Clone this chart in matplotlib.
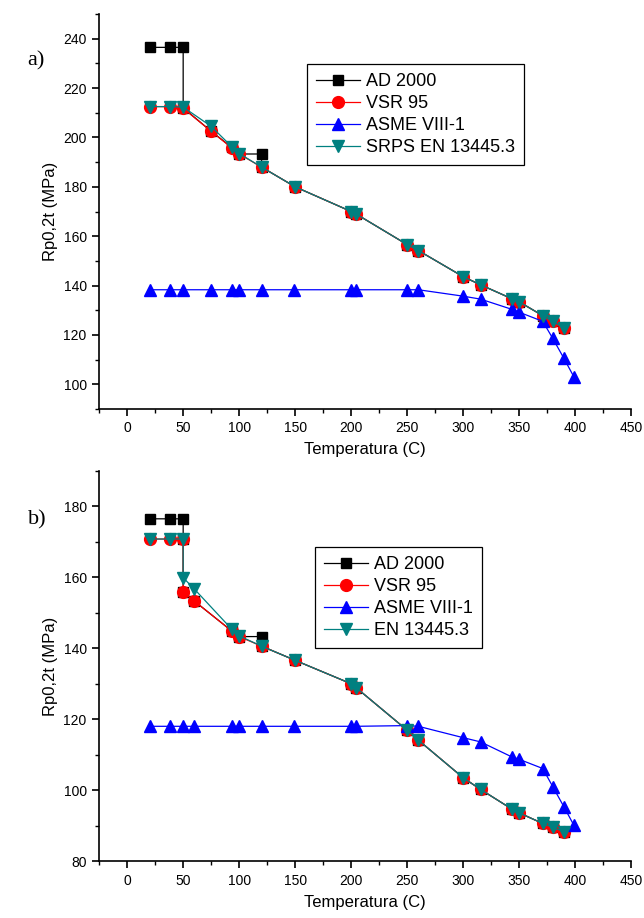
import numpy as np
import matplotlib
matplotlib.use('Agg')
import matplotlib.pyplot as plt
from matplotlib.ticker import MultipleLocator

plt.rcParams['font.family'] = ['Liberation Sans', 'DejaVu Sans']

# ---- panel a) ----
t_ad_a = [20, 37.8, 50, 50, 75, 93.3, 100, 120, 120, 150, 200, 204.4, 250, 260, 300, 315.6, 343.3, 350, 371.1, 380, 390]
ad_a = [236.5, 236.5, 236.5, 212.0, 202.5, 196.0, 193.3, 193.3, 188.0, 180.0, 170.0, 169.0, 156.6, 154.2,
        143.6, 140.3, 134.7, 133.4, 127.8, 125.5, 122.8]

t_vsr_a = [20, 37.8, 50, 75, 93.3, 100, 120, 150, 200, 204.4, 250, 260, 300, 315.6, 343.3, 350, 371.1, 380, 390]
vsr_a = [212.5, 212.5, 211.8, 202.5, 195.8, 193.3, 188.0, 180.0, 170.0, 169.0, 156.6, 154.2,
         143.6, 140.3, 134.7, 133.4, 127.8, 125.5, 122.8]
en_a = [212.5, 212.5, 212.3, 204.5, 196.3, 193.5, 188.0, 180.0, 170.0, 169.0, 156.6, 154.2,
        143.6, 140.3, 134.7, 133.4, 127.8, 125.5, 122.8]

t_asme_a = [20, 37.8, 50, 75, 93.3, 100, 120, 148.9, 200, 204.4, 250, 260, 300, 315.6, 343.3, 350, 371.1, 380, 390, 398.9]
asme_a = [138.3, 138.3, 138.3, 138.3, 138.3, 138.3, 138.3, 138.3, 138.3, 138.3, 138.3, 138.3,
          135.7, 134.5, 130.4, 129.2, 125.5, 118.6, 110.5, 103.0]

# ---- panel b) ----
t_ad_b = [20, 37.8, 50, 50, 50, 60, 93.3, 100, 120, 120, 150, 200, 204.4, 250, 260, 300, 315.6, 343.3, 350, 371.1, 380, 390]
ad_b = [176.5, 176.5, 176.5, 170.8, 155.9, 153.3, 144.9, 143.3, 143.3, 140.6, 136.6, 130.0, 128.9, 116.9, 114.1,
        103.5, 100.2, 94.7, 93.6, 90.6, 89.5, 88.3]

t_vsr_b = [20, 37.8, 50, 50, 60, 93.3, 100, 120, 150, 200, 204.4, 250, 260, 300, 315.6, 343.3, 350, 371.1, 380, 390]
vsr_b = [170.8, 170.8, 170.8, 155.9, 153.3, 144.9, 143.3, 140.6, 136.6, 130.0, 128.9, 116.9, 114.1,
         103.5, 100.2, 94.7, 93.6, 90.6, 89.5, 88.3]
en_b = [170.8, 170.8, 170.8, 159.9, 156.7, 145.4, 143.5, 140.6, 136.6, 130.0, 128.9, 116.9, 114.1,
        103.5, 100.2, 94.7, 93.6, 90.6, 89.5, 88.3]

t_asme_b = [20, 37.8, 50, 60, 93.3, 100, 120, 148.9, 200, 204.4, 250, 260, 300, 315.6, 343.3, 350, 371.1, 380, 390, 398.9]
asme_b = [118.0, 118.0, 118.0, 118.0, 118.0, 118.0, 118.0, 118.0, 118.0, 118.0, 118.2, 118.0,
          114.8, 113.6, 109.4, 108.7, 106.1, 101.0, 95.3, 90.1]

labels_a = ['AD 2000', 'VSR 95', 'ASME VIII-1', 'SRPS EN 13445.3']
labels_b = ['AD 2000', 'VSR 95', 'ASME VIII-1', 'EN 13445.3']

teal = '#008080'

fig = plt.figure(figsize=(6.44, 9.18), dpi=100)
ax1 = fig.add_axes([0.154, 0.5545, 0.826, 0.4302])
ax2 = fig.add_axes([0.154, 0.062, 0.826, 0.425])


def draw(ax, data, labels, ylim, leg_xy):
    (tad, ad), (tv, v), (ta, a), (te, e) = data
    ax.plot(tad, ad, '-', color='black', lw=0.9, marker='s', ms=7, mfc='black', mec='black', label=labels[0])
    ax.plot(tv, v, '-', color='red', lw=0.9, marker='o', ms=8.5, mfc='red', mec='red', label=labels[1])
    ax.plot(ta, a, '-', color='blue', lw=0.9, marker='^', ms=9, mfc='blue', mec='blue', label=labels[2])
    ax.plot(te, e, '-', color=teal, lw=0.9, marker='v', ms=9, mfc=teal, mec=teal, label=labels[3])

    ax.set_xlim(-25, 450)
    ax.set_ylim(*ylim)
    ax.xaxis.set_major_locator(MultipleLocator(50))
    ax.xaxis.set_minor_locator(MultipleLocator(25))
    ax.yaxis.set_major_locator(MultipleLocator(20))
    ax.yaxis.set_minor_locator(MultipleLocator(10))
    for s in ['top', 'right']:
        ax.spines[s].set_visible(False)
    for s in ['left', 'bottom']:
        ax.spines[s].set_linewidth(1.2)
    ax.tick_params(which='major', direction='out', length=5, width=1.2, labelsize=10, pad=4)
    ax.tick_params(which='minor', direction='out', length=3, width=1.0)
    ax.set_xlabel('Temperatura (C)', fontsize=12, labelpad=5)
    ax.set_ylabel('Rp0,2t (MPa)', fontsize=12, labelpad=4)

    leg = ax.legend(loc='upper left', bbox_to_anchor=leg_xy, borderaxespad=0, fontsize=13,
                    fancybox=False, edgecolor='black', framealpha=1, handlelength=2.4,
                    handletextpad=0.35, labelspacing=0.28, borderpad=0.5)
    leg.get_frame().set_linewidth(0.9)


draw(ax1, [(t_ad_a, ad_a), (t_vsr_a, vsr_a), (t_asme_a, asme_a), (t_vsr_a, en_a)],
     labels_a, (90, 250), (0.391, 0.873))
draw(ax2, [(t_ad_b, ad_b), (t_vsr_b, vsr_b), (t_asme_b, asme_b), (t_vsr_b, en_b)],
     labels_b, (80, 190), (0.406, 0.805))

fig.text(0.043, 0.934, 'a)', fontsize=16, family='Liberation Serif', va='center', ha='left')
fig.text(0.043, 0.434, 'b)', fontsize=16, family='Liberation Serif', va='center', ha='left')

fig.savefig('out.png', dpi=100)
